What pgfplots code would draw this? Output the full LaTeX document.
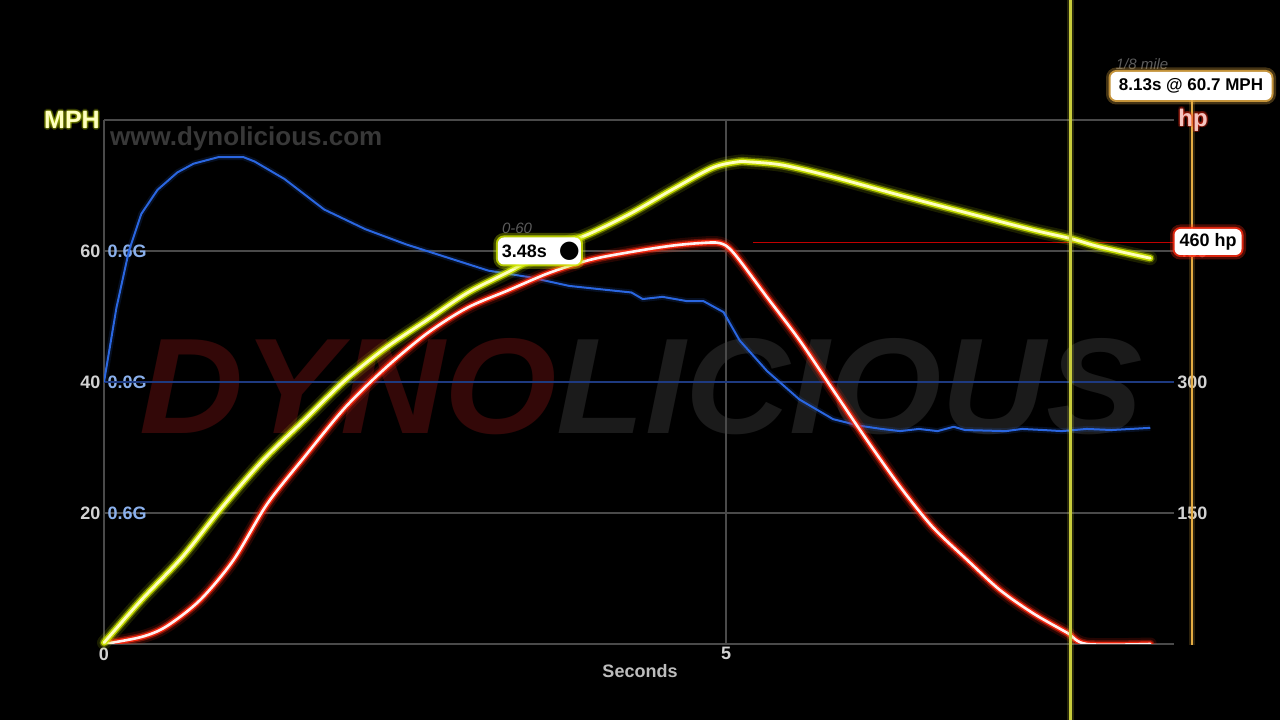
\documentclass[border=0pt]{standalone}
\usepackage{fontspec}
\setmainfont{Liberation Sans}
\newfontfamily\dejavu{DejaVu Sans}
\usepackage{graphicx}
\usepackage{pgfplots}
\pgfplotsset{compat=1.18}

\definecolor{gridc}{HTML}{4A4A4A}
\definecolor{ticktxt}{HTML}{D2D2D2}
\definecolor{gtxt}{HTML}{8AB0EC}
\definecolor{spdglow}{HTML}{D0E800}
\definecolor{spdcore}{HTML}{FFFFC0}
\definecolor{hpglow}{HTML}{FF2A10}
\definecolor{hpcore}{HTML}{FFF0F0}
\definecolor{hptitle}{HTML}{F4C4C0}
\definecolor{gline}{HTML}{2A66E0}
\definecolor{gzero}{HTML}{1E3A80}
\definecolor{wmred}{HTML}{330808}
\definecolor{wmgrey}{HTML}{1B1B1B}
\definecolor{urlc}{HTML}{383838}
\definecolor{cursor}{HTML}{C8CC3C}
\definecolor{eighth}{HTML}{E4AC44}
\definecolor{hpline}{HTML}{C00000}
\definecolor{notec}{HTML}{5C5C5C}

\newcommand{\fs}[1]{\fontsize{#1pt}{#1pt}\selectfont}

% speed, mph
\pgfplotstableread{
t mph
0 0.2
0.30 6.7
0.63 13.3
0.95 20.9
1.28 28.1
1.61 34.2
1.94 40.3
2.27 45.3
2.60 49.5
2.92 53.6
3.25 56.8
3.58 60.2
3.91 62.7
4.24 65.8
4.56 69.3
4.89 72.7
5.09 73.6
5.19 73.6
5.46 73.1
5.86 71.3
6.40 68.5
6.94 65.8
7.47 63.2
7.77 61.9
8.01 60.6
8.41 58.9
}\speed

% power, hp
\pgfplotstableread{
t hp
0 0
0.30 8
0.50 20
0.77 50
1.04 96
1.31 160
1.61 214
1.94 271
2.27 317
2.60 356
2.92 385
3.25 405
3.58 425
3.91 440
4.24 449
4.56 456
4.79 459
4.95 459
5.06 448
5.33 397
5.59 348
5.86 291
6.13 234
6.40 180
6.66 134
6.94 96
7.20 62
7.47 35
7.74 13
7.90 0
8.41 0
}\power

% acceleration, G
\pgfplotstableread{
t g
0 0
0.10 0.34
0.20 0.60
0.30 0.77
0.43 0.88
0.59 0.96
0.72 1.00
0.92 1.03
1.12 1.03
1.21 1.01
1.45 0.93
1.77 0.79
2.10 0.70
2.43 0.63
2.76 0.57
3.09 0.51
3.42 0.48
3.74 0.44
4.07 0.42
4.24 0.41
4.33 0.38
4.49 0.39
4.69 0.37
4.82 0.37
4.98 0.32
5.11 0.19
5.33 0.05
5.59 -0.08
5.86 -0.17
6.07 -0.20
6.25 -0.215
6.40 -0.225
6.55 -0.215
6.70 -0.225
6.83 -0.205
6.92 -0.22
7.25 -0.225
7.38 -0.215
7.55 -0.22
7.70 -0.225
7.90 -0.215
8.10 -0.22
8.41 -0.21
}\accel

\pgfplotsset{
  base/.style={
    scale only axis, width=1070pt, height=524pt,
    at={(104pt,76pt)}, anchor=south west,
    xmin=0, xmax=8.6,
    major tick length=0pt,
    axis line style={draw=none},
    /pgf/number format/assume math mode=true,
    tick label style={font=\fs{18}\bfseries, text=ticktxt},
  },
}

\begin{document}
\begin{tikzpicture}
\path[use as bounding box] (0,0) rectangle (1280pt,720pt);
\fill[black] (0,0) rectangle (1280pt,720pt);

% watermark
\node[inner sep=0] at (641pt,333pt)
  {\resizebox{1003pt}{95pt}{\bfseries\itshape\textcolor{wmred}{DYNO}\textcolor{wmgrey}{LICIOUS}}};
\node[anchor=west, inner sep=0, text=urlc, font=\fs{26}\bfseries] at (110pt,581pt) {www.dynolicious.com};

% grid and mph ticks
\begin{axis}[base, ymin=0, ymax=80,
  ytick={0,20,40,60,80}, yticklabels={,20,40,60,},
  xtick={0,5}, grid=major, grid style={gridc, line width=1.3pt}]
\end{axis}

% acceleration
\begin{axis}[base, ymin=-1.2, ymax=1.2, xtick=\empty,
  ytick={-0.6,0,0.6}, yticklabels={0.6G,0.0G,0.6G},
  yticklabel style={anchor=west, text=gtxt}]
  \draw[gzero, line width=1.6pt] (axis cs:0,0) -- (axis cs:8.6,0);
  \addplot[gline, line width=6pt, opacity=0.15, line join=round] table {\accel};
  \addplot[gline, line width=2pt, line join=round] table {\accel};
\end{axis}

% power
\begin{axis}[base, ymin=0, ymax=600, xtick=\empty,
  ytick={150,300,450}, yticklabel pos=right]
  \draw[hpline, line width=1pt] (axis cs:5.22,460) -- (axis cs:8.6,460);
  \addplot[hpglow, smooth, line width=13pt, opacity=0.14, line cap=round] table {\power};
  \addplot[hpglow, smooth, line width=8.5pt, opacity=0.35, line cap=round] table {\power};
  \addplot[hpglow, smooth, line width=5.5pt, opacity=0.9, line cap=round] table {\power};
  \addplot[hpcore, smooth, line width=2.6pt, line cap=round] table {\power};
\end{axis}

% speed
\begin{axis}[base, ymin=0, ymax=80, hide axis, clip=false]
  \addplot[spdglow, smooth, line width=14pt, opacity=0.13, line cap=round] table {\speed};
  \addplot[spdglow, smooth, line width=9pt, opacity=0.35, line cap=round] table {\speed};
  \addplot[spdglow, smooth, line width=6pt, opacity=0.9, line cap=round] table {\speed};
  \addplot[spdcore, smooth, line width=2.8pt, line cap=round] table {\speed};
  \node[text=notec, font=\fs{15}\itshape] at (axis cs:3.32,63.5) {0-60};
  \node[rounded corners=6pt, fill=white, minimum width=83pt, minimum height=27pt, inner sep=0pt,
    preaction={draw=spdglow, line width=9pt, opacity=0.3},
    preaction={draw=spdglow, line width=4pt, opacity=0.8},
    font=\fs{18}\bfseries] at (axis cs:3.5,60)
    {\hspace{3pt}3.48s\hspace{12pt}{\dejavu\fs{24}●}};
\end{axis}

% markers
\draw[cursor, line width=7pt, opacity=0.2] (1070pt,0) -- (1070pt,720pt);
\draw[cursor, line width=3pt] (1070pt,0) -- (1070pt,720pt);
\draw[eighth, line width=6pt, opacity=0.2] (1192pt,75pt) -- (1192pt,620pt);
\draw[eighth, line width=2.5pt] (1192pt,75pt) -- (1192pt,620pt);

\node[rounded corners=6pt, fill=white, minimum width=67pt, minimum height=26pt, inner sep=0pt,
  preaction={draw=hpglow, line width=9pt, opacity=0.3},
  preaction={draw=hpglow, line width=4pt, opacity=0.8},
  font=\fs{18}\bfseries] at (1208pt,478pt) {460 hp};

\node[text=notec, font=\fs{15}\itshape] at (1142pt,656pt) {1/8 mile};
\node[rounded corners=6pt, fill=white, minimum width=161pt, minimum height=28pt, inner sep=0pt,
  preaction={draw=eighth, line width=9pt, opacity=0.3},
  preaction={draw=eighth, line width=4pt, opacity=0.8},
  font=\fs{17}\bfseries] at (1191pt,634pt) {8.13s @ 60.7 MPH};

% axis titles
\foreach \a in {0,45,...,315}
  \node[text=spdglow, opacity=0.2, font=\fs{25}\bfseries] at ([shift={(\a:1.8pt)}]72pt,600pt) {MPH};
\node[text=spdcore, font=\fs{25}\bfseries] at (72pt,600pt) {MPH};
\foreach \a in {0,45,...,315}
  \node[text=hpglow, opacity=0.2, font=\fs{24}\bfseries] at ([shift={(\a:1.8pt)}]1193pt,600pt) {hp};
\node[text=hptitle, font=\fs{24}\bfseries] at (1193pt,600pt) {hp};

\node[text=ticktxt!90!black, font=\fs{18}\bfseries] at (640pt,49pt) {Seconds};
\end{tikzpicture}
\end{document}
